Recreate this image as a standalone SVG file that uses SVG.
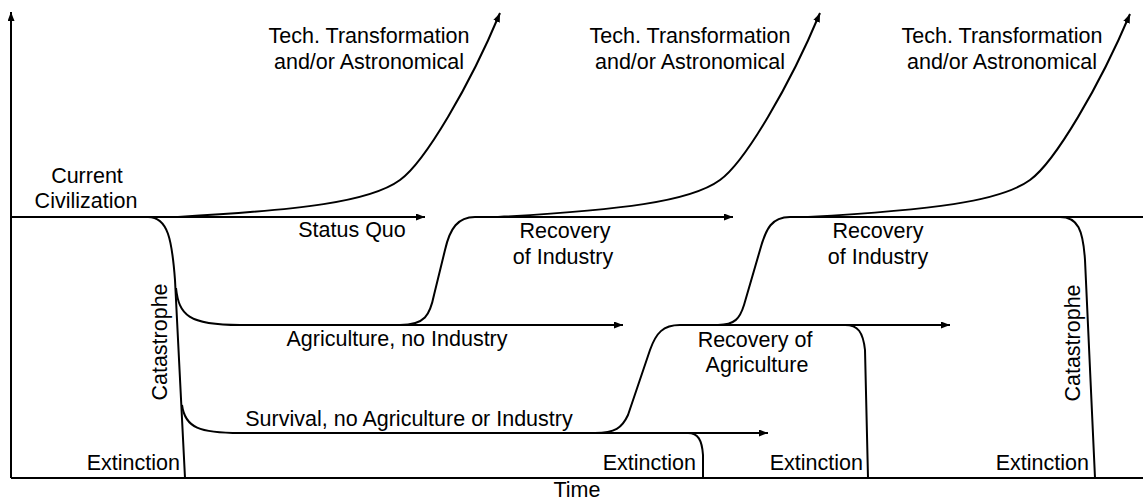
<svg xmlns="http://www.w3.org/2000/svg" width="1143" height="500" viewBox="0 0 1143 500">
<style>
  .ln{fill:none;stroke:#000;stroke-width:2;stroke-linejoin:round}
  .ar{marker-end:url(#ah)}
  text{font-family:"Liberation Sans",Arial,sans-serif;font-size:21.5px;fill:#000}
  .c{text-anchor:middle}
</style>
<defs>
  <marker id="ah" markerUnits="userSpaceOnUse" markerWidth="10" markerHeight="8" refX="9" refY="3.5" orient="auto">
    <path d="M0,0 L9,3.5 L0,7 z" fill="#000"/>
  </marker>
</defs>
<rect width="1143" height="500" fill="#fff"/>
<g id="connectors">
  <path id="y-axis" class="ln ar" d="M11,478 L11,12"/>
  <path id="x-axis" class="ln" d="M11,478 L1143,478"/>
  <path id="status-quo" class="ln ar" d="M11,217 L425,217"/>
  <path id="catastrophe-1" class="ln" d="M148,217 C168,217 172,240 175,280 L185,478"/>
  <path id="agri-branch" class="ln ar" d="M176,288 C179,315 188,325 240,325 L623,325"/>
  <path id="survival-branch" class="ln ar" d="M182,405 C185,428 200,433 240,433 L768,433"/>
  <path id="tech-1" class="ln ar" d="M178,217 C300,210 370,202 400,180 C425,162 470,85 500,13"/>
  <path id="recovery-industry-1" class="ln ar" d="M400,325 C425,325 430,315 434,295 L445,250 C450,228 458,217 475,217 L733,217"/>
  <path id="tech-2" class="ln ar" d="M498,217 C620,210 690,202 720,180 C745,162 790,85 820,13"/>
  <path id="recovery-agri" class="ln ar" d="M595,433 C615,433 622,428 628,415 L650,350 C656,333 663,325 680,325 L950,325"/>
  <path id="extinction-2" class="ln" d="M688,433 C698,433 702,440 703,455 L703,478"/>
  <path id="recovery-industry-2" class="ln" d="M718,325 C735,325 740,318 744,305 L760,250 C766,228 772,217 790,217 L1143,217"/>
  <path id="extinction-3" class="ln" d="M845,325 C858,325 863,332 865,350 L868,478"/>
  <path id="tech-3" class="ln ar" d="M808,217 C930,210 1000,202 1030,180 C1055,162 1100,85 1130,14"/>
  <path id="catastrophe-2" class="ln" d="M1060,217 C1078,217 1083,230 1085,260 L1095,478"/>
</g>
<g id="label-tech-1"><text class="c" x="369" y="43">Tech. Transformation</text><text class="c" x="369" y="69">and/or Astronomical</text></g>
<g id="label-tech-2"><text class="c" x="690" y="43">Tech. Transformation</text><text class="c" x="690" y="69">and/or Astronomical</text></g>
<g id="label-tech-3"><text class="c" x="1002" y="43">Tech. Transformation</text><text class="c" x="1002" y="69">and/or Astronomical</text></g>
<g id="label-current"><text class="c" x="87" y="183">Current</text><text class="c" x="86" y="208">Civilization</text></g>
<g id="label-status-quo"><text class="c" x="352" y="237">Status Quo</text></g>
<g id="label-recovery-industry-1"><text class="c" x="565" y="238">Recovery</text><text class="c" x="563" y="264">of Industry</text></g>
<g id="label-recovery-industry-2"><text class="c" x="878" y="238">Recovery</text><text class="c" x="878" y="264">of Industry</text></g>
<g id="label-agri"><text class="c" x="397" y="346">Agriculture, no Industry</text></g>
<g id="label-recovery-agri"><text class="c" x="755" y="347">Recovery of</text><text class="c" x="757" y="372">Agriculture</text></g>
<g id="label-survival"><text class="c" x="409" y="426">Survival, no Agriculture or Industry</text></g>
<g id="label-catastrophe-1"><text class="c" transform="translate(167,342) rotate(-90)">Catastrophe</text></g>
<g id="label-catastrophe-2"><text class="c" transform="translate(1080,343) rotate(-90)">Catastrophe</text></g>
<g id="label-extinction-1"><text x="180" y="470" text-anchor="end">Extinction</text></g>
<g id="label-extinction-2"><text x="696" y="470" text-anchor="end">Extinction</text></g>
<g id="label-extinction-3"><text x="863" y="470" text-anchor="end">Extinction</text></g>
<g id="label-extinction-4"><text x="1089" y="470" text-anchor="end">Extinction</text></g>
<g id="label-time"><text class="c" x="577" y="497">Time</text></g>
</svg>
